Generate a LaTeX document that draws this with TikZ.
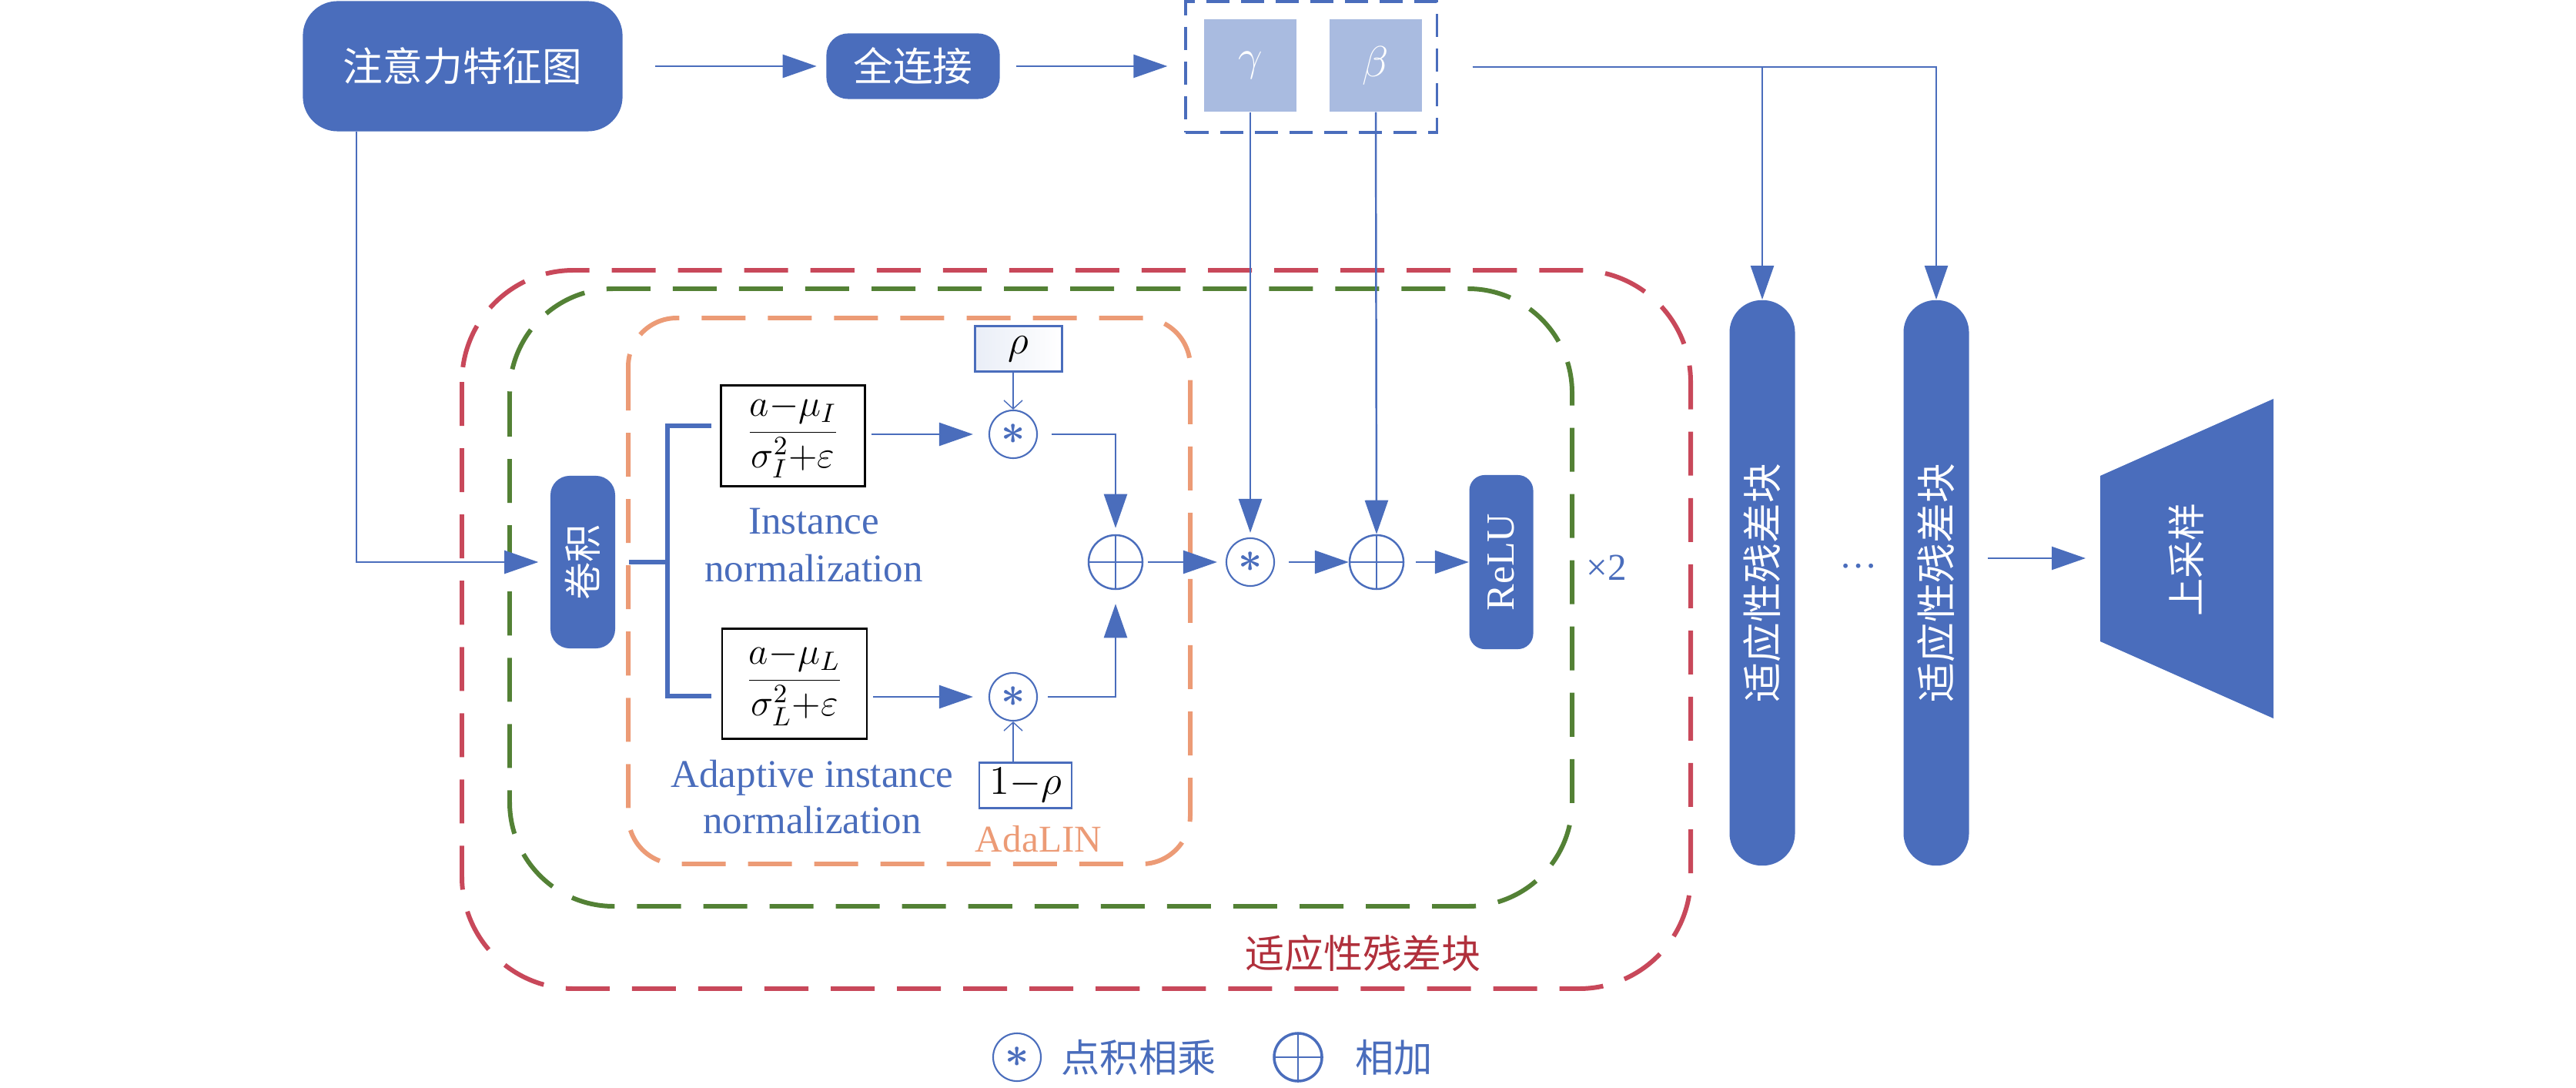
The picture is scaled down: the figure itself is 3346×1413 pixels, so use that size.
\documentclass[tikz,border=0pt]{standalone}
\usepackage{fix-cm}
\usepackage{fontspec}
\setmainfont{Liberation Serif}
\newfontfamily\cjk{Noto Sans CJK SC}
\usetikzlibrary{arrows.meta}
\definecolor{navy}{HTML}{4A6DBC}
\definecolor{pale}{HTML}{A9BBE0}
\definecolor{crimson}{HTML}{C8485A}
\definecolor{moss}{HTML}{538135}
\definecolor{peach}{HTML}{EC9B76}
\definecolor{wine}{HTML}{B0303C}

\begin{document}
\begin{tikzpicture}[x=0.01cm,y=-0.01cm,
  blk/.style={fill=navy,text=white,rounded corners=#1,inner sep=0pt,font=\cjk\fontsize{14.7}{17}\selectfont},
  blk/.default=0.25cm,
  arr/.style={navy,line width=0.7pt,-{Triangle[length=4.4mm,width=3mm]}},
  tip/.style={navy,line width=0.4pt,-{Straight Barb[length=1.1mm,width=2.4mm]}},
  brk/.style={navy,line width=1.5pt},
  mul/.style={circle,draw=navy,line width=0.6pt,minimum size=0.62cm,inner sep=0pt,text=navy,font=\fontsize{15.5}{15.5}\selectfont\boldmath},
  plus/.style={circle,draw=navy,line width=0.7pt,minimum size=0.70cm,inner sep=0pt,
    path picture={\draw[navy,line width=0.4pt] (path picture bounding box.north)--(path picture bounding box.south)
      (path picture bounding box.west)--(path picture bounding box.east);}},
  frm/.style={draw=black,line width=0.8pt,inner sep=0pt,font=\fontsize{14}{16}\selectfont},
  pbox/.style={draw=navy,line width=0.7pt,inner sep=0pt,minimum height=0.59cm,font=\fontsize{15}{15}\selectfont},
  lab/.style={text=navy,align=center,font=\fontsize{14.5}{17.5}\selectfont},
  zone/.style={line width=1.7pt,dash pattern=on 0.57cm off 0.29cm}]
  \useasboundingbox (0,0) rectangle (3346,1413);
  % containers
  \draw[zone,crimson,rounded corners=1.45cm] (600,351) rectangle (2196,1284);
  \draw[zone,moss,rounded corners=1.35cm] (662,375) rectangle (2042,1177);
  \draw[zone,peach,rounded corners=0.63cm] (816,413) rectangle (1546,1122);
  % top row
  \node[blk=0.45cm,minimum width=4.15cm,minimum height=1.69cm] (attn) at (601,86) {注意力特征图};
  \node[blk=0.28cm,minimum width=2.25cm,minimum height=0.85cm] (fc) at (1186,86) {全连接};
  \node[draw=navy,line width=0.9pt,dash pattern=on 0.3cm off 0.15cm,minimum width=3.26cm,minimum height=1.70cm] (param) at (1703,87) {};
  \node[fill=pale,text=white,minimum width=1.19cm,minimum height=1.20cm,font=\fontsize{16}{16}\selectfont] (gam) at (1624,85) {$\gamma$};
  \node[fill=pale,text=white,minimum width=1.19cm,minimum height=1.20cm,font=\fontsize{16}{16}\selectfont] (bet) at (1787,85) {$\beta$};
  \coordinate (split) at (1914,87);
  % AdaLIN
  \node[blk,rotate=90,minimum width=2.24cm,minimum height=0.84cm,font=\cjk\fontsize{14}{16}\selectfont] (conv) at (757,730) {卷积};
  \node[frm,minimum width=1.87cm,minimum height=1.31cm] (f1) at (1030,566) {$\displaystyle\frac{a{-}\mu_I}{\sigma_I^2{+}\varepsilon}$};
  \node[frm,minimum width=1.88cm,minimum height=1.43cm] (f2) at (1032,888) {$\displaystyle\frac{a{-}\mu_L}{\sigma_L^2{+}\varepsilon}$};
  \node[lab] (inst) at (1057,708) {Instance\\normalization};
  \node[lab,font=\fontsize{14.5}{17}\selectfont] (adapt) at (1055,1035) {Adaptive instance\\normalization};
  \node[mul] (m1) at (1316,564) {$\ast$};
  \node[mul] (m2) at (1316,905) {$\ast$};
  \node[pbox,minimum width=1.13cm,left color=navy!12,right color=white] (rho) at (1323,453) {$\rho$};
  \node[pbox,minimum width=1.20cm] (omr) at (1332,1020) {$1{-}\rho$};
  \node[text=peach,font=\fontsize{14}{16}\selectfont] (ada) at (1349,1090) {AdaLIN};
  \node[plus] (p1) at (1449,730) {};
  \node[mul] (m3) at (1624,730) {$\ast$};
  \node[plus] (p2) at (1788,730) {};
  \node[blk=0.2cm,rotate=90,minimum width=2.26cm,minimum height=0.83cm,font=\fontsize{14.7}{17}\selectfont] (relu) at (1950,730) {ReLU};
  \node[text=navy,font=\fontsize{14}{16}\selectfont] (rep) at (2087,737) {×2};
  \node[text=wine,font=\cjk\fontsize{14.5}{17}\selectfont] (title) at (1770,1238) {适应性残差块};
  \coordinate (brkc) at (867,730);
  \coordinate (bt) at (924,553);
  \coordinate (bb) at (924,904);
  % residual blocks and upsampling
  \node[blk=0.42cm,rotate=90,minimum width=7.34cm,minimum height=0.85cm] (res1) at (2289,757) {适应性残差块};
  \node[blk=0.42cm,rotate=90,minimum width=7.34cm,minimum height=0.85cm] (res2) at (2515,757) {适应性残差块};
  \node[text=navy,anchor=base,font=\fontsize{14}{16}\selectfont] (dots) at (2414,737) {…};
  \fill[navy] (2728,618) -- (2953,518) -- (2953,933) -- (2728,833) -- cycle;
  \node[rotate=90,text=white,font=\cjk\fontsize{14}{16}\selectfont] (up) at (2840,727) {上采样};
  \coordinate (upin) at (2728,725);
  % connectors
  \draw[arr,shorten <=0.42cm,shorten >=0.12cm] (attn.east |- fc) -- (fc.west);
  \draw[arr,shorten <=0.21cm,shorten >=0.22cm] (fc.east) -- (fc.east -| param.west);
  \draw[navy,line width=0.7pt] (param.east |- split) ++(0.45cm,0) -- (split);
  \draw[arr] (split) -| (res2.east);
  \draw[arr] (split -| res1.east) -- (res1.east);
  \draw[arr,shorten >=0.15cm] ([xshift=-1.38cm]attn.south) |- (conv.north);
  \draw[brk] ([xshift=0.17cm]conv.south) -- (brkc);
  \draw[brk] (bt) -| (brkc) |- (bb);
  \draw[arr,shorten <=0.07cm,shorten >=0.2cm] (f1.east |- m1) -- (m1);
  \draw[arr,shorten <=0.07cm,shorten >=0.2cm] (f2.east |- m2) -- (m2);
  \draw[tip] (rho.south -| m1.north) -- (m1.north);
  \draw[tip] (omr.north -| m2.south) -- (m2.south);
  \draw[arr,shorten <=0.18cm,shorten >=0.08cm] (m1.east) -| (p1.north);
  \draw[arr,shorten <=0.13cm,shorten >=0.18cm] (m2.east) -| (p1.south);
  \draw[arr,shorten <=0.06cm,shorten >=0.11cm] (p1.east) -- (m3.west);
  \draw[arr,shorten <=0.18cm] (m3.east) -- (p2.west);
  \draw[arr,shorten <=0.15cm] (p2.east) -- (relu.north);
  \draw[arr,shorten >=0.06cm] (gam.south) -- (m3.north);
  \draw[arr] (bet.south) -- (p2.north);
  \draw[arr,shorten <=0.24cm,shorten >=0.19cm] (res2.south |- upin) -- (upin);
  % legend
  \node[mul] (lgm) at (1321,1373) {$\ast$};
  \node[lab,anchor=west,font=\cjk\fontsize{14.3}{16}\selectfont] (lgmt) at (1366,1373) {点积相乘};
  \node[plus,minimum size=0.62cm,line width=1pt] (lgp) at (1686,1373) {};
  \node[lab,anchor=west,font=\cjk\fontsize{14.3}{16}\selectfont] (lgpt) at (1748,1373) {相加};
\end{tikzpicture}
\end{document}
